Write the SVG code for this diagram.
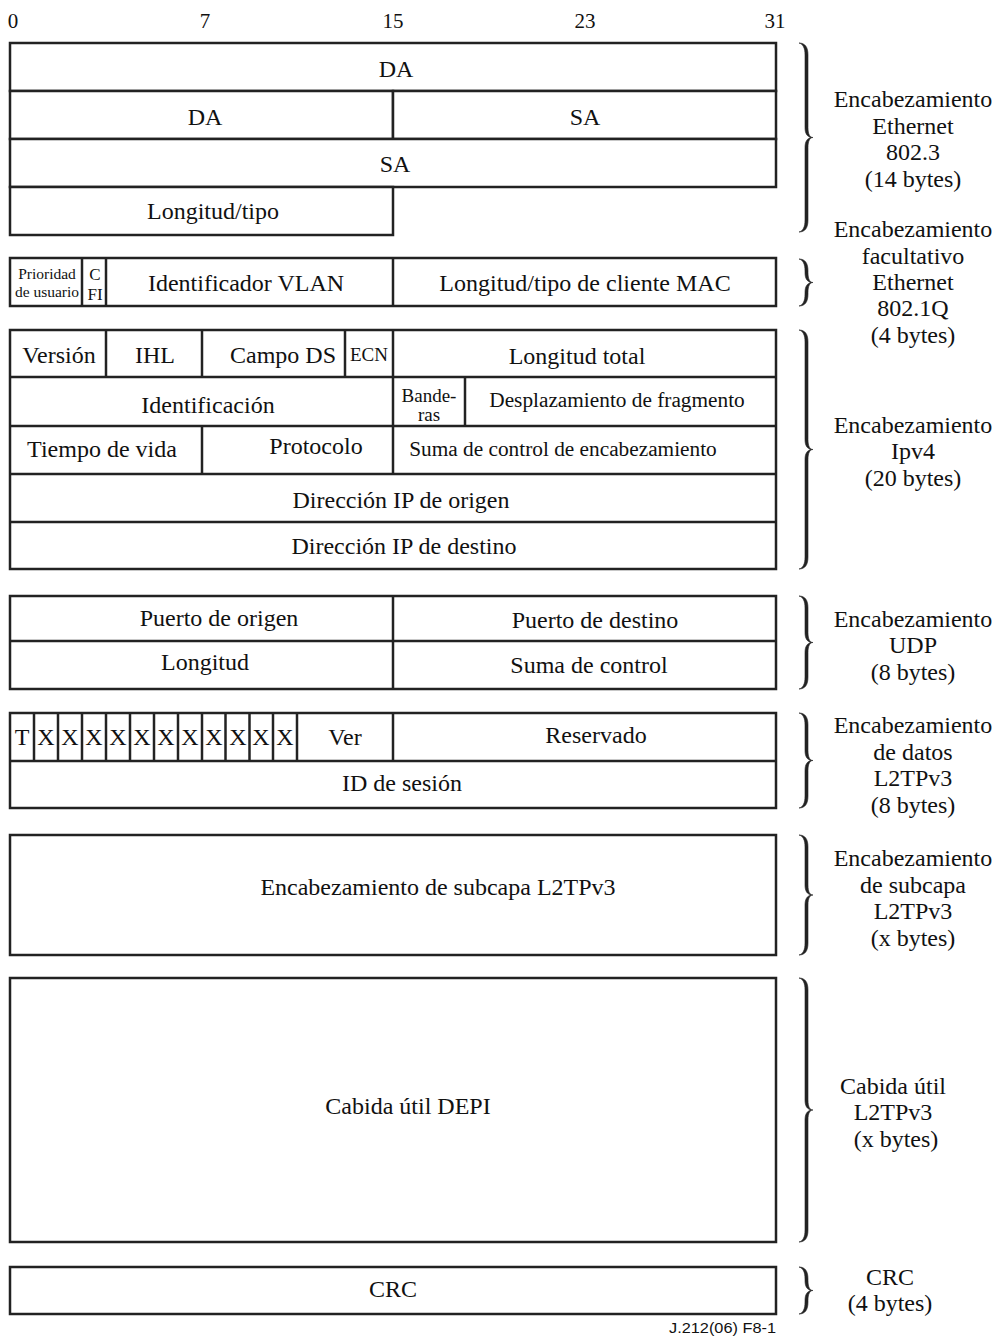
<svg xmlns="http://www.w3.org/2000/svg" width="999" height="1336" viewBox="0 0 999 1336">
<style>
.b{fill:#fff;stroke:#222;stroke-width:2.5}
.ln{stroke:#222;stroke-width:2.5;fill:none}
.t{font-family:"Liberation Serif","Times New Roman",serif;font-size:24px;fill:#111;text-anchor:middle}
.s{font-size:21.3px}
.m{font-size:19px}
.xs{font-size:15.5px}
.br{fill:#222;stroke:#222;stroke-width:0.6}
.f{font-family:"Liberation Sans",Arial,sans-serif;font-size:14px;fill:#111;text-anchor:end}
</style>
<rect width="999" height="1336" fill="#fff"/>
<g id="bits" class="t" style="font-size:21px">
<text x="13" y="28">0</text>
<text x="205" y="28">7</text>
<text x="393" y="28">15</text>
<text x="585" y="28">23</text>
<text x="775" y="28">31</text>
</g>
<g id="ethernet">
<rect class="b" x="10" y="43" width="766" height="48"/>
<rect class="b" x="10" y="91" width="383" height="48"/>
<rect class="b" x="393" y="91" width="383" height="48"/>
<rect class="b" x="10" y="139" width="766" height="48"/>
<rect class="b" x="10" y="187" width="383" height="48"/>
<text class="t" x="396" y="77">DA</text>
<text class="t" x="205" y="125">DA</text>
<text class="t" x="585" y="125">SA</text>
<text class="t" x="395" y="172">SA</text>
<text class="t" x="213" y="219">Longitud/tipo</text>
</g>
<g id="vlan">
<rect class="b" x="10" y="258" width="766" height="48"/>
<line class="ln" x1="82" y1="258" x2="82" y2="306"/>
<line class="ln" x1="106" y1="258" x2="106" y2="306"/>
<line class="ln" x1="393" y1="258" x2="393" y2="306"/>
<text class="t xs" x="47" y="279">Prioridad</text>
<text class="t xs" x="47" y="297">de usuario</text>
<text class="t" style="font-size:17px" x="95" y="280">C</text>
<text class="t" style="font-size:17px" x="95" y="300">FI</text>
<text class="t" x="246" y="291">Identificador VLAN</text>
<text class="t" x="585" y="291">Longitud/tipo de cliente MAC</text>
</g>
<g id="ipv4">
<rect class="b" x="10" y="330" width="766" height="239"/>
<line class="ln" x1="10" y1="377" x2="776" y2="377"/>
<line class="ln" x1="10" y1="426" x2="776" y2="426"/>
<line class="ln" x1="10" y1="474" x2="776" y2="474"/>
<line class="ln" x1="10" y1="522" x2="776" y2="522"/>
<line class="ln" x1="106" y1="330" x2="106" y2="377"/>
<line class="ln" x1="202" y1="330" x2="202" y2="377"/>
<line class="ln" x1="345" y1="330" x2="345" y2="377"/>
<line class="ln" x1="393" y1="330" x2="393" y2="474"/>
<line class="ln" x1="465" y1="377" x2="465" y2="426"/>
<line class="ln" x1="202" y1="426" x2="202" y2="474"/>
<text class="t" x="59" y="363">Versión</text>
<text class="t" x="155" y="363">IHL</text>
<text class="t" x="283" y="363">Campo DS</text>
<text class="t m" x="369" y="361">ECN</text>
<text class="t" x="577" y="364">Longitud total</text>
<text class="t" x="208" y="413">Identificación</text>
<text class="t m" x="429" y="402">Bande-</text>
<text class="t m" x="429" y="421">ras</text>
<text class="t s" x="617" y="407">Desplazamiento de fragmento</text>
<text class="t" x="102" y="457">Tiempo de vida</text>
<text class="t" x="316" y="454">Protocolo</text>
<text class="t s" x="563" y="456">Suma de control de encabezamiento</text>
<text class="t" x="401" y="508">Dirección IP de origen</text>
<text class="t" x="404" y="554">Dirección IP de destino</text>
</g>
<g id="udp">
<rect class="b" x="10" y="596" width="766" height="93"/>
<line class="ln" x1="10" y1="641" x2="776" y2="641"/>
<line class="ln" x1="393" y1="596" x2="393" y2="689"/>
<text class="t" x="219" y="626">Puerto de origen</text>
<text class="t" x="595" y="628">Puerto de destino</text>
<text class="t" x="205" y="670">Longitud</text>
<text class="t" x="589" y="673">Suma de control</text>
</g>
<g id="l2tp-data">
<rect class="b" x="10" y="713" width="766" height="95"/>
<line class="ln" x1="10" y1="761" x2="776" y2="761"/>
<g class="ln">
<line x1="34" y1="713" x2="34" y2="761"/>
<line x1="58" y1="713" x2="58" y2="761"/>
<line x1="82" y1="713" x2="82" y2="761"/>
<line x1="106" y1="713" x2="106" y2="761"/>
<line x1="130" y1="713" x2="130" y2="761"/>
<line x1="154" y1="713" x2="154" y2="761"/>
<line x1="178" y1="713" x2="178" y2="761"/>
<line x1="202" y1="713" x2="202" y2="761"/>
<line x1="225.5" y1="713" x2="225.5" y2="761"/>
<line x1="249.5" y1="713" x2="249.5" y2="761"/>
<line x1="273" y1="713" x2="273" y2="761"/>
<line x1="297" y1="713" x2="297" y2="761"/>
<line x1="393" y1="713" x2="393" y2="761"/>
</g>
<text class="t" x="22" y="745">T</text>
<text class="t" x="46" y="745">X</text>
<text class="t" x="70" y="745">X</text>
<text class="t" x="94" y="745">X</text>
<text class="t" x="118" y="745">X</text>
<text class="t" x="142" y="745">X</text>
<text class="t" x="166" y="745">X</text>
<text class="t" x="190" y="745">X</text>
<text class="t" x="214" y="745">X</text>
<text class="t" x="238" y="745">X</text>
<text class="t" x="261" y="745">X</text>
<text class="t" x="285" y="745">X</text>
<text class="t" x="345" y="745">Ver</text>
<text class="t" x="596" y="743">Reservado</text>
<text class="t" x="402" y="791">ID de sesión</text>
</g>
<g id="sublayer">
<rect class="b" x="10" y="835" width="766" height="120"/>
<text class="t" x="438" y="895">Encabezamiento de subcapa L2TPv3</text>
</g>
<g id="payload">
<rect class="b" x="10" y="978" width="766" height="264"/>
<text class="t" x="408" y="1114">Cabida útil DEPI</text>
</g>
<g id="crc">
<rect class="b" x="10" y="1267" width="766" height="47"/>
<text class="t" x="393" y="1297">CRC</text>
</g>
<g id="braces" class="br">
<path d="M799,43 C805,43 808,47 808,55 L808,127.5 C808,134.5 810,137.5 813,137.5 C810,137.5 808,140.5 808,147.5 L808,220 C808,228 805,232 799,232 C803,231 805,227 805,220 L805,147.5 C805,141.5 807,138.5 811,137.5 C807,136.5 805,133.5 805,127.5 L805,55 C805,48 803,44 799,43 Z"/>
<path d="M799,259 C805,259 808,263 808,271 L808,272.5 C808,279.5 810,282.5 813,282.5 C810,282.5 808,285.5 808,292.5 L808,294 C808,302 805,306 799,306 C803,305 805,301 805,294 L805,292.5 C805,286.5 807,283.5 811,282.5 C807,281.5 805,278.5 805,272.5 L805,271 C805,264 803,260 799,259 Z"/>
<path d="M799,330 C805,330 808,334 808,342 L808,439.5 C808,446.5 810,449.5 813,449.5 C810,449.5 808,452.5 808,459.5 L808,557 C808,565 805,569 799,569 C803,568 805,564 805,557 L805,459.5 C805,453.5 807,450.5 811,449.5 C807,448.5 805,445.5 805,439.5 L805,342 C805,335 803,331 799,330 Z"/>
<path d="M799,596 C805,596 808,600 808,608 L808,632.5 C808,639.5 810,642.5 813,642.5 C810,642.5 808,645.5 808,652.5 L808,677 C808,685 805,689 799,689 C803,688 805,684 805,677 L805,652.5 C805,646.5 807,643.5 811,642.5 C807,641.5 805,638.5 805,632.5 L805,608 C805,601 803,597 799,596 Z"/>
<path d="M799,713 C805,713 808,717 808,725 L808,750.5 C808,757.5 810,760.5 813,760.5 C810,760.5 808,763.5 808,770.5 L808,796 C808,804 805,808 799,808 C803,807 805,803 805,796 L805,770.5 C805,764.5 807,761.5 811,760.5 C807,759.5 805,756.5 805,750.5 L805,725 C805,718 803,714 799,713 Z"/>
<path d="M799,835 C805,835 808,839 808,847 L808,885 C808,892 810,895 813,895 C810,895 808,898 808,905 L808,943 C808,951 805,955 799,955 C803,954 805,950 805,943 L805,905 C805,899 807,896 811,895 C807,894 805,891 805,885 L805,847 C805,840 803,836 799,835 Z"/>
<path d="M799,978 C805,978 808,982 808,990 L808,1100 C808,1107 810,1110 813,1110 C810,1110 808,1113 808,1120 L808,1230 C808,1238 805,1242 799,1242 C803,1241 805,1237 805,1230 L805,1120 C805,1114 807,1111 811,1110 C807,1109 805,1106 805,1100 L805,990 C805,983 803,979 799,978 Z"/>
<path d="M799,1267 C805,1267 808,1271 808,1279 L808,1280.5 C808,1287.5 810,1290.5 813,1290.5 C810,1290.5 808,1293.5 808,1300.5 L808,1302 C808,1310 805,1314 799,1314 C803,1313 805,1309 805,1302 L805,1300.5 C805,1294.5 807,1291.5 811,1290.5 C807,1289.5 805,1286.5 805,1280.5 L805,1279 C805,1272 803,1268 799,1267 Z"/>
</g>
<g id="labels" class="t">
<text x="913" y="107">Encabezamiento</text>
<text x="913" y="134">Ethernet</text>
<text x="913" y="160">802.3</text>
<text x="913" y="187">(14 bytes)</text>
<text x="913" y="237">Encabezamiento</text>
<text x="913" y="264">facultativo</text>
<text x="913" y="290">Ethernet</text>
<text x="913" y="316">802.1Q</text>
<text x="913" y="343">(4 bytes)</text>
<text x="913" y="433">Encabezamiento</text>
<text x="913" y="459">Ipv4</text>
<text x="913" y="486">(20 bytes)</text>
<text x="913" y="627">Encabezamiento</text>
<text x="913" y="653">UDP</text>
<text x="913" y="680">(8 bytes)</text>
<text x="913" y="733">Encabezamiento</text>
<text x="913" y="760">de datos</text>
<text x="913" y="786">L2TPv3</text>
<text x="913" y="813">(8 bytes)</text>
<text x="913" y="866">Encabezamiento</text>
<text x="913" y="893">de subcapa</text>
<text x="913" y="919">L2TPv3</text>
<text x="913" y="946">(x bytes)</text>
<text x="893" y="1094">Cabida útil</text>
<text x="893" y="1120">L2TPv3</text>
<text x="896" y="1147">(x bytes)</text>
<text x="890" y="1285">CRC</text>
<text x="890" y="1311">(4 bytes)</text>
</g>
<text id="footer" class="f" x="776" y="1333" textLength="107" lengthAdjust="spacingAndGlyphs">J.212(06)  F8-1</text>
</svg>
